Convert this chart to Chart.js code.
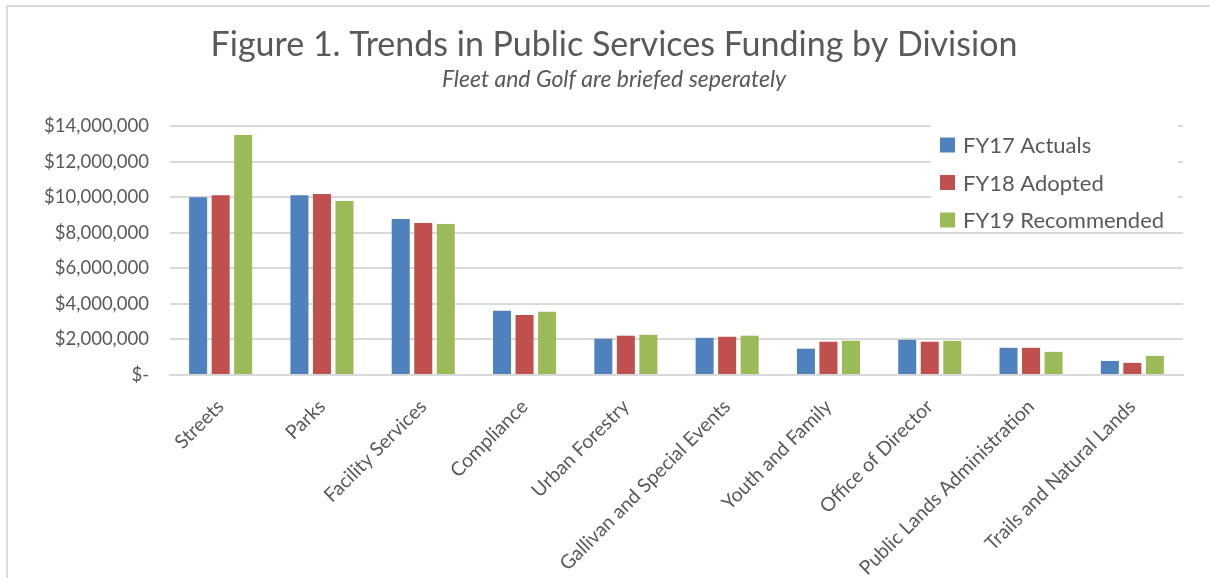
<!DOCTYPE html>
<html>
<head>
<meta charset="utf-8">
<script src="https://cdn.jsdelivr.net/npm/chart.js@4.4.1/dist/chart.umd.min.js"></script>
<style>
  html, body { margin: 0; padding: 0; background: #ffffff; overflow: hidden; }
  #frame { position: absolute; left: 6px; top: 5px; width: 2000px; height: 2000px; border: 2px solid #d9d9d9; }
  #wrap { position: absolute; left: 0; top: 0; width: 1210px; height: 578px; }
</style>
</head>
<body>
<div id="frame"></div>
<div id="wrap"><canvas id="c" width="1210" height="578"></canvas></div>
<script>
const titleText = 'Figure 1. Trends in Public Services Funding by Division';
const subtitleText = 'Fleet and Golf are briefed seperately';
const categories = ['Streets', 'Parks', 'Facility Services', 'Compliance', 'Urban Forestry',
  'Gallivan and Special Events', 'Youth and Family', 'Office of Director',
  'Public Lands Administration', 'Trails and Natural Lands'];
const seriesNames = ['FY17 Actuals', 'FY18 Adopted', 'FY19 Recommended'];
const fy17 = [10000000, 10110000, 8770000, 3610000, 2040000, 2090000, 1480000, 1980000, 1530000, 790000];
const fy18 = [10110000, 10170000, 8540000, 3380000, 2210000, 2150000, 1870000, 1870000, 1530000, 680000];
const fy19 = [13490000, 9790000, 8490000, 3550000, 2260000, 2210000, 1925000, 1920000, 1300000, 1075000];
const yMin = 0, yMax = 14000000, yStep = 2000000;
const colors = ['#4F81BD', '#C0504D', '#9BBB59'];

const FONT = 'Lato, "Open Sans", sans-serif';
const TEXT = '#595959';

const titlePlugin = {
  id: 'centeredTitles',
  afterDraw(chart) {
    const ctx = chart.ctx;
    ctx.save();
    ctx.fillStyle = TEXT;
    ctx.textAlign = 'center';
    ctx.textBaseline = 'middle';
    ctx.font = 'normal 34px ' + FONT;
    ctx.fillText(titleText, 614, 45);
    ctx.font = 'italic 23px ' + FONT;
    ctx.fillText(subtitleText, 614, 80);
    ctx.restore();
  }
};

const legendPlugin = {
  id: 'boxLegend',
  afterDatasetsDraw(chart) {
    const ctx = chart.ctx;
    ctx.save();
    ctx.fillStyle = '#ffffff';
    ctx.fillRect(931, 118, 247, 113);
    chart.data.datasets.forEach((ds, i) => {
      const cy = 145 + i * 37.5;
      ctx.fillStyle = ds.backgroundColor;
      ctx.fillRect(940, cy - 7.5, 15, 15);
      ctx.fillStyle = TEXT;
      ctx.font = '22px ' + FONT;
      ctx.textBaseline = 'middle';
      ctx.textAlign = 'left';
      ctx.fillText(ds.label, 963, cy + 1);
    });
    ctx.restore();
  }
};

new Chart(document.getElementById('c'), {
  type: 'bar',
  data: {
    labels: categories,
    datasets: [
      { label: seriesNames[0], data: fy17, backgroundColor: colors[0] },
      { label: seriesNames[1], data: fy18, backgroundColor: colors[1] },
      { label: seriesNames[2], data: fy19, backgroundColor: colors[2] }
    ]
  },
  options: {
    responsive: false,
    animation: false,
    devicePixelRatio: 1,
    layout: { padding: { left: 20, right: 27, top: 126, bottom: 0 } },
    datasets: { bar: { categoryPercentage: 0.667, barPercentage: 0.8 } },
    plugins: {
      legend: { display: false },
      tooltip: { enabled: false },
      title: { display: false },
      subtitle: { display: false }
    },
    scales: {
      x: {
        grid: { display: false },
        border: { display: true, color: '#d9d9d9', width: 2 },
        ticks: {
          color: TEXT, font: { family: FONT, size: 19.5 },
          autoSkip: false, minRotation: 45, maxRotation: 45, padding: 12
        },
        afterFit(scale) { scale.height = 203; }
      },
      y: {
        min: yMin, max: yMax,
        grid: { color: '#d9d9d9', lineWidth: 2, drawTicks: false },
        border: { display: false },
        ticks: {
          stepSize: yStep, color: TEXT, padding: 21,
          font: { family: FONT, size: 18.5 },
          callback: (v) => v === 0 ? '$-' : '$' + Number(v).toLocaleString('en-US')
        },
        afterFit(scale) { scale.width = 150; }
      }
    }
  },
  plugins: [legendPlugin, titlePlugin]
});
</script>
</body>
</html>
